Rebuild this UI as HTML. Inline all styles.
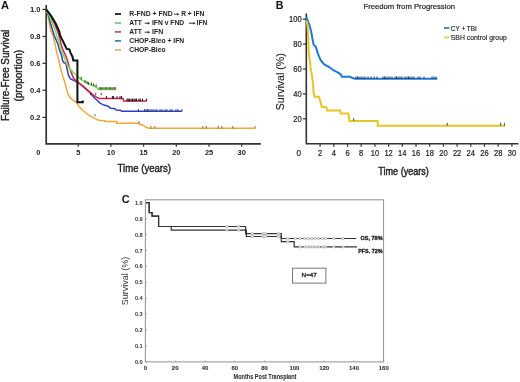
<!DOCTYPE html>
<html><head><meta charset="utf-8"><style>
html,body{margin:0;padding:0;background:#fff;width:520px;height:382px;overflow:hidden}
svg{display:block;font-family:"Liberation Sans", sans-serif;will-change:transform}
</style></head><body>
<svg width="520" height="382" viewBox="0 0 520 382">
<rect width="520" height="382" fill="#fff"/>
<text x="1.1" y="9.0" font-size="10.6" font-weight="bold" text-anchor="start" fill="#111" textLength="8.0" lengthAdjust="spacingAndGlyphs" >A</text>
<path d="M46.2 5 V143.8 H260.8" fill="none" stroke="#333" stroke-width="1.7"/>
<line x1="42.4" y1="9.4" x2="46.2" y2="9.4" stroke="#333" stroke-width="1.2"/>
<text x="40.6" y="12.100000000000001" font-size="7.6" font-weight="bold" text-anchor="end" fill="#222" >1.0</text>
<line x1="42.4" y1="36.5" x2="46.2" y2="36.5" stroke="#333" stroke-width="1.2"/>
<text x="40.6" y="39.2" font-size="7.6" font-weight="bold" text-anchor="end" fill="#222" >0.8</text>
<line x1="42.4" y1="63.3" x2="46.2" y2="63.3" stroke="#333" stroke-width="1.2"/>
<text x="40.6" y="66.0" font-size="7.6" font-weight="bold" text-anchor="end" fill="#222" >0.6</text>
<line x1="42.4" y1="90.2" x2="46.2" y2="90.2" stroke="#333" stroke-width="1.2"/>
<text x="40.6" y="92.9" font-size="7.6" font-weight="bold" text-anchor="end" fill="#222" >0.4</text>
<line x1="42.4" y1="117.4" x2="46.2" y2="117.4" stroke="#333" stroke-width="1.2"/>
<text x="40.6" y="120.10000000000001" font-size="7.6" font-weight="bold" text-anchor="end" fill="#222" >0.2</text>
<line x1="78.2" y1="143.8" x2="78.2" y2="146.8" stroke="#333" stroke-width="1.2"/>
<text x="78.2" y="154.8" font-size="7.4" font-weight="bold" text-anchor="middle" fill="#222" >5</text>
<line x1="110.9" y1="143.8" x2="110.9" y2="146.8" stroke="#333" stroke-width="1.2"/>
<text x="110.9" y="154.8" font-size="7.4" font-weight="bold" text-anchor="middle" fill="#222" >10</text>
<line x1="143.6" y1="143.8" x2="143.6" y2="146.8" stroke="#333" stroke-width="1.2"/>
<text x="143.6" y="154.8" font-size="7.4" font-weight="bold" text-anchor="middle" fill="#222" >15</text>
<line x1="176.3" y1="143.8" x2="176.3" y2="146.8" stroke="#333" stroke-width="1.2"/>
<text x="176.3" y="154.8" font-size="7.4" font-weight="bold" text-anchor="middle" fill="#222" >20</text>
<line x1="209.0" y1="143.8" x2="209.0" y2="146.8" stroke="#333" stroke-width="1.2"/>
<text x="209.0" y="154.8" font-size="7.4" font-weight="bold" text-anchor="middle" fill="#222" >25</text>
<line x1="241.7" y1="143.8" x2="241.7" y2="146.8" stroke="#333" stroke-width="1.2"/>
<text x="241.7" y="154.8" font-size="7.4" font-weight="bold" text-anchor="middle" fill="#222" >30</text>
<text x="38.2" y="154.8" font-size="7.4" font-weight="bold" text-anchor="middle" fill="#222" >0</text>
<text x="117.6" y="171.8" font-size="10.4" font-weight="normal" text-anchor="start" fill="#222" stroke="#222" stroke-width="0.4" textLength="53.4" lengthAdjust="spacingAndGlyphs" >Time (years)</text>
<text x="9.4" y="120.9" font-size="10.6" font-weight="normal" text-anchor="start" fill="#222" stroke="#222" stroke-width="0.4" textLength="91.2" lengthAdjust="spacingAndGlyphs" transform="rotate(-90 9.4 120.9)" >Failure-Free Survival</text>
<text x="21.8" y="101.6" font-size="10.4" font-weight="normal" text-anchor="start" fill="#222" stroke="#222" stroke-width="0.4" textLength="51.8" lengthAdjust="spacingAndGlyphs" transform="rotate(-90 21.8 101.6)" >(proportion)</text>
<line x1="115" y1="14.0" x2="121" y2="14.0" stroke="#111" stroke-width="1.7"/>
<line x1="115" y1="23.0" x2="121" y2="23.0" stroke="#72c872" stroke-width="1.7"/>
<line x1="115" y1="31.9" x2="121" y2="31.9" stroke="#c04a6a" stroke-width="1.7"/>
<line x1="115" y1="40.9" x2="121" y2="40.9" stroke="#3f7ab0" stroke-width="1.7"/>
<line x1="115" y1="49.9" x2="121" y2="49.9" stroke="#d8b080" stroke-width="1.7"/>
<text x="129.29999999999998" y="16.2" font-size="6.5" font-weight="bold" text-anchor="start" fill="#222" textLength="43.4" lengthAdjust="spacingAndGlyphs" >R-FND + FND</text>
<path d="M174.0 14.2 H177.8" stroke="#222" stroke-width="0.9" fill="none"/>
<path d="M177.20000000000002 12.899999999999999 L179.4 14.2 L177.20000000000002 15.5 Z" fill="#222"/>
<text x="181.2" y="16.2" font-size="6.5" font-weight="bold" text-anchor="start" fill="#222" textLength="23.2" lengthAdjust="spacingAndGlyphs" >R + IFN</text>
<text x="129.29999999999998" y="25.2" font-size="6.5" font-weight="bold" text-anchor="start" fill="#222" textLength="12.5" lengthAdjust="spacingAndGlyphs" >ATT</text>
<path d="M144.7 23.2 H148.5" stroke="#222" stroke-width="0.9" fill="none"/>
<path d="M147.9 21.9 L150.1 23.2 L147.9 24.5 Z" fill="#222"/>
<text x="152.0" y="25.2" font-size="6.5" font-weight="bold" text-anchor="start" fill="#222" textLength="32.2" lengthAdjust="spacingAndGlyphs" >IFN v FND</text>
<path d="M188.8 23.2 H194.0" stroke="#222" stroke-width="0.9" fill="none"/>
<path d="M193.4 21.9 L195.6 23.2 L193.4 24.5 Z" fill="#222"/>
<text x="196.6" y="25.2" font-size="6.5" font-weight="bold" text-anchor="start" fill="#222" textLength="10.7" lengthAdjust="spacingAndGlyphs" >IFN</text>
<text x="129.29999999999998" y="34.2" font-size="6.5" font-weight="bold" text-anchor="start" fill="#222" textLength="12.5" lengthAdjust="spacingAndGlyphs" >ATT</text>
<path d="M144.7 32.2 H148.5" stroke="#222" stroke-width="0.9" fill="none"/>
<path d="M147.9 30.900000000000002 L150.1 32.2 L147.9 33.5 Z" fill="#222"/>
<text x="152.0" y="34.2" font-size="6.5" font-weight="bold" text-anchor="start" fill="#222" textLength="11.2" lengthAdjust="spacingAndGlyphs" >IFN</text>
<text x="129.29999999999998" y="43.2" font-size="6.5" font-weight="bold" text-anchor="start" fill="#222" textLength="54.9" lengthAdjust="spacingAndGlyphs" >CHOP-Bleo + IFN</text>
<text x="129.29999999999998" y="52.2" font-size="6.5" font-weight="bold" text-anchor="start" fill="#222" textLength="36.3" lengthAdjust="spacingAndGlyphs" >CHOP-Bleo</text>
<path d="M46.4 9.6 L48.0 15.9 L49.5 23.7 L51.0 31.6 L53.2 36.0 L55.0 43.9 L56.2 50.1 L57.6 55.6 L59.2 62.0 L60.9 70.0 L62.5 75.4 L64.0 80.0 L65.6 85.0 L66.8 90.0 L67.9 94.3 L70.4 97.9 L73.5 100.6 L76.7 102.1 L78.8 106.3 L82.9 110.5 L88.2 114.7 L92.4 117.3 L95.5 118.9 L98.9 120.2 L104.7 120.7 L104.7 121.6 L116.7 121.6 L116.7 123.3 L139.0 123.3 L139.6 124.5 L142.7 125.0 L145.0 126.7 L148.5 128.2 L255.0 128.2" fill="none" stroke="#f0a83a" stroke-width="1.5" stroke-linejoin="miter" />
<line x1="95.0" y1="114.0" x2="95.0" y2="116.5" stroke="#6a5030" stroke-width="0.8"/>
<line x1="139.0" y1="121.1" x2="139.0" y2="123.6" stroke="#6a5030" stroke-width="0.8"/>
<line x1="150.8" y1="126.0" x2="150.8" y2="128.5" stroke="#6a5030" stroke-width="0.8"/>
<line x1="154.8" y1="126.0" x2="154.8" y2="128.5" stroke="#6a5030" stroke-width="0.8"/>
<line x1="202.8" y1="126.0" x2="202.8" y2="128.5" stroke="#6a5030" stroke-width="0.8"/>
<line x1="206.4" y1="126.0" x2="206.4" y2="128.5" stroke="#6a5030" stroke-width="0.8"/>
<line x1="218.3" y1="126.0" x2="218.3" y2="128.5" stroke="#6a5030" stroke-width="0.8"/>
<line x1="221.9" y1="126.0" x2="221.9" y2="128.5" stroke="#6a5030" stroke-width="0.8"/>
<line x1="232.8" y1="126.0" x2="232.8" y2="128.5" stroke="#6a5030" stroke-width="0.8"/>
<line x1="255.0" y1="126.0" x2="255.0" y2="128.5" stroke="#6a5030" stroke-width="0.8"/>
<path d="M46.4 9.6 L48.7 15.9 L50.7 23.7 L53.0 31.6 L54.4 36.0 L57.9 43.9 L59.5 50.1 L61.7 55.6 L62.3 59.5 L63.2 61.8 L64.2 62.8 L65.8 63.3 L66.8 67.5 L68.6 75.7 L70.6 78.9 L74.0 80.6 L78.0 82.4 L82.7 86.1 L89.8 92.5 L94.5 98.0 L96.9 100.0 L100.0 103.1 L103.9 105.1 L107.6 105.9 L110.7 108.2 L114.7 108.4 L116.2 110.0 L120.6 110.2 L121.6 111.3 L182.0 111.3" fill="none" stroke="#2f3fc2" stroke-width="1.5" stroke-linejoin="miter" />
<line x1="138.5" y1="109.0" x2="138.5" y2="111.5" stroke="#1a2a70" stroke-width="0.8"/>
<line x1="144.5" y1="109.0" x2="144.5" y2="111.5" stroke="#1a2a70" stroke-width="0.8"/>
<line x1="146.0" y1="109.0" x2="146.0" y2="111.5" stroke="#1a2a70" stroke-width="0.8"/>
<line x1="147.5" y1="109.0" x2="147.5" y2="111.5" stroke="#1a2a70" stroke-width="0.8"/>
<line x1="149.0" y1="109.0" x2="149.0" y2="111.5" stroke="#1a2a70" stroke-width="0.8"/>
<line x1="151.0" y1="109.0" x2="151.0" y2="111.5" stroke="#1a2a70" stroke-width="0.8"/>
<line x1="153.0" y1="109.0" x2="153.0" y2="111.5" stroke="#1a2a70" stroke-width="0.8"/>
<line x1="155.0" y1="109.0" x2="155.0" y2="111.5" stroke="#1a2a70" stroke-width="0.8"/>
<line x1="157.0" y1="109.0" x2="157.0" y2="111.5" stroke="#1a2a70" stroke-width="0.8"/>
<line x1="160.0" y1="109.0" x2="160.0" y2="111.5" stroke="#1a2a70" stroke-width="0.8"/>
<line x1="162.0" y1="109.0" x2="162.0" y2="111.5" stroke="#1a2a70" stroke-width="0.8"/>
<line x1="165.0" y1="109.0" x2="165.0" y2="111.5" stroke="#1a2a70" stroke-width="0.8"/>
<line x1="167.0" y1="109.0" x2="167.0" y2="111.5" stroke="#1a2a70" stroke-width="0.8"/>
<line x1="170.0" y1="109.0" x2="170.0" y2="111.5" stroke="#1a2a70" stroke-width="0.8"/>
<line x1="172.0" y1="109.0" x2="172.0" y2="111.5" stroke="#1a2a70" stroke-width="0.8"/>
<line x1="176.0" y1="109.0" x2="176.0" y2="111.5" stroke="#1a2a70" stroke-width="0.8"/>
<line x1="178.0" y1="109.0" x2="178.0" y2="111.5" stroke="#1a2a70" stroke-width="0.8"/>
<line x1="182.0" y1="109.0" x2="182.0" y2="111.5" stroke="#1a2a70" stroke-width="0.8"/>
<path d="M46.4 9.6 L50.3 15.9 L54.6 23.7 L57.7 31.6 L59.1 36.0 L61.0 43.9 L63.0 50.1 L65.7 55.6 L67.7 61.1 L68.9 66.0 L71.0 71.8 L73.4 78.0 L76.5 81.2 L78.0 82.3 L82.7 85.9 L88.2 90.6 L93.7 95.3 L96.9 97.4 L99.5 98.5 L123.0 98.5 L123.6 101.0 L146.6 101.0" fill="none" stroke="#d4214d" stroke-width="1.5" stroke-linejoin="miter" />
<line x1="90.6" y1="92.8" x2="90.6" y2="95.3" stroke="#3a1020" stroke-width="0.8"/>
<line x1="95.7" y1="92.8" x2="95.7" y2="95.3" stroke="#3a1020" stroke-width="0.8"/>
<line x1="101.2" y1="92.8" x2="101.2" y2="95.3" stroke="#3a1020" stroke-width="0.8"/>
<line x1="106.5" y1="96.0" x2="106.5" y2="98.8" stroke="#111" stroke-width="0.9"/>
<line x1="112.4" y1="96.0" x2="112.4" y2="98.8" stroke="#111" stroke-width="0.9"/>
<line x1="113.5" y1="96.0" x2="113.5" y2="98.8" stroke="#111" stroke-width="0.9"/>
<line x1="117.0" y1="96.0" x2="117.0" y2="98.8" stroke="#111" stroke-width="0.9"/>
<line x1="120.0" y1="96.0" x2="120.0" y2="98.8" stroke="#111" stroke-width="0.9"/>
<line x1="121.5" y1="96.0" x2="121.5" y2="98.8" stroke="#111" stroke-width="0.9"/>
<line x1="127.0" y1="98.6" x2="127.0" y2="101.3" stroke="#111" stroke-width="1.0"/>
<line x1="128.2" y1="98.6" x2="128.2" y2="101.3" stroke="#111" stroke-width="1.0"/>
<line x1="129.4" y1="98.6" x2="129.4" y2="101.3" stroke="#111" stroke-width="1.0"/>
<line x1="131.0" y1="98.6" x2="131.0" y2="101.3" stroke="#111" stroke-width="1.0"/>
<line x1="132.5" y1="98.6" x2="132.5" y2="101.3" stroke="#111" stroke-width="1.0"/>
<line x1="134.0" y1="98.6" x2="134.0" y2="101.3" stroke="#111" stroke-width="1.0"/>
<line x1="135.2" y1="98.6" x2="135.2" y2="101.3" stroke="#111" stroke-width="1.0"/>
<line x1="136.5" y1="98.6" x2="136.5" y2="101.3" stroke="#111" stroke-width="1.0"/>
<line x1="139.0" y1="98.6" x2="139.0" y2="101.3" stroke="#111" stroke-width="1.0"/>
<line x1="140.2" y1="98.6" x2="140.2" y2="101.3" stroke="#111" stroke-width="1.0"/>
<line x1="142.5" y1="98.6" x2="142.5" y2="101.3" stroke="#111" stroke-width="1.0"/>
<line x1="146.6" y1="98.6" x2="146.6" y2="101.3" stroke="#111" stroke-width="1.0"/>
<path d="M46.4 9.6 L49.5 15.9 L52.6 23.7 L55.8 31.6 L56.7 36.0 L59.5 43.9 L61.0 50.1 L63.8 55.6 L65.1 60.0 L67.1 64.7 L67.7 66.0 L72.6 71.8 L78.0 76.5 L81.1 79.6 L85.9 82.7 L91.4 85.1 L96.1 87.0 L98.4 89.4 L115.9 89.4" fill="none" stroke="#78e050" stroke-width="1.5" stroke-linejoin="miter" />
<g>
<line x1="81.2" y1="76.8" x2="81.2" y2="79.60000000000001" stroke="#1e3a10" stroke-width="0.9"/>
<line x1="85.1" y1="80.0" x2="85.1" y2="82.80000000000001" stroke="#1e3a10" stroke-width="0.9"/>
<line x1="87.1" y1="81.19999999999999" x2="87.1" y2="84.0" stroke="#1e3a10" stroke-width="0.9"/>
<line x1="88.6" y1="82.0" x2="88.6" y2="84.80000000000001" stroke="#1e3a10" stroke-width="0.9"/>
<line x1="91.4" y1="82.5" x2="91.4" y2="85.30000000000001" stroke="#1e3a10" stroke-width="0.9"/>
<line x1="93.7" y1="83.39999999999999" x2="93.7" y2="86.2" stroke="#1e3a10" stroke-width="0.9"/>
<line x1="96.1" y1="84.39999999999999" x2="96.1" y2="87.2" stroke="#1e3a10" stroke-width="0.9"/>
</g>
<line x1="99.2" y1="87.2" x2="99.2" y2="89.5" stroke="#1e3a10" stroke-width="0.8"/>
<line x1="100.4" y1="87.2" x2="100.4" y2="89.5" stroke="#1e3a10" stroke-width="0.8"/>
<line x1="101.6" y1="87.2" x2="101.6" y2="89.5" stroke="#1e3a10" stroke-width="0.8"/>
<line x1="102.8" y1="87.2" x2="102.8" y2="89.5" stroke="#1e3a10" stroke-width="0.8"/>
<line x1="104.0" y1="87.2" x2="104.0" y2="89.5" stroke="#1e3a10" stroke-width="0.8"/>
<line x1="105.4" y1="87.2" x2="105.4" y2="89.5" stroke="#1e3a10" stroke-width="0.8"/>
<line x1="106.6" y1="87.2" x2="106.6" y2="89.5" stroke="#1e3a10" stroke-width="0.8"/>
<line x1="108.0" y1="87.2" x2="108.0" y2="89.5" stroke="#1e3a10" stroke-width="0.8"/>
<line x1="109.3" y1="87.2" x2="109.3" y2="89.5" stroke="#1e3a10" stroke-width="0.8"/>
<line x1="110.6" y1="87.2" x2="110.6" y2="89.5" stroke="#1e3a10" stroke-width="0.8"/>
<line x1="111.8" y1="87.2" x2="111.8" y2="89.5" stroke="#1e3a10" stroke-width="0.8"/>
<line x1="113.0" y1="87.2" x2="113.0" y2="89.5" stroke="#1e3a10" stroke-width="0.8"/>
<line x1="114.3" y1="87.2" x2="114.3" y2="89.5" stroke="#1e3a10" stroke-width="0.8"/>
<line x1="115.6" y1="87.2" x2="115.6" y2="89.5" stroke="#1e3a10" stroke-width="0.8"/>
<path d="M46.4 9.6 L51.1 15.9 L55.8 23.7 L59.3 31.6 L60.0 35.3 L61.8 38.9 L63.6 42.5 L65.3 46.0 L66.7 48.9 L69.3 49.3 L70.7 53.1 L72.5 56.7 L73.3 60.6 L77.4 60.6 L77.4 102.3 L82.8 102.3 L82.8 100.4" fill="none" stroke="#111" stroke-width="2.0" stroke-linejoin="miter" />
<text x="275.8" y="8.9" font-size="10.6" font-weight="bold" text-anchor="start" fill="#111" >B</text>
<text x="363.5" y="8.7" font-size="7.3" font-weight="normal" text-anchor="start" fill="#222" stroke="#222" stroke-width="0.2" textLength="91.5" lengthAdjust="spacingAndGlyphs" >Freedom from Progression</text>
<path d="M306.3 13.5 V143.8 H518.5" fill="none" stroke="#333" stroke-width="1.6"/>
<line x1="302.8" y1="19.2" x2="306.3" y2="19.2" stroke="#333" stroke-width="1.2"/>
<text x="301.6" y="22.099999999999973" font-size="8.2" font-weight="normal" text-anchor="end" fill="#222" stroke="#222" stroke-width="0.2" textLength="12.6" lengthAdjust="spacingAndGlyphs" >100</text>
<line x1="302.8" y1="44.1" x2="306.3" y2="44.1" stroke="#333" stroke-width="1.2"/>
<text x="301.6" y="46.99999999999998" font-size="8.2" font-weight="normal" text-anchor="end" fill="#222" stroke="#222" stroke-width="0.2" textLength="8.4" lengthAdjust="spacingAndGlyphs" >80</text>
<line x1="302.8" y1="69.0" x2="306.3" y2="69.0" stroke="#333" stroke-width="1.2"/>
<text x="301.6" y="71.89999999999999" font-size="8.2" font-weight="normal" text-anchor="end" fill="#222" stroke="#222" stroke-width="0.2" textLength="8.4" lengthAdjust="spacingAndGlyphs" >60</text>
<line x1="302.8" y1="93.9" x2="306.3" y2="93.9" stroke="#333" stroke-width="1.2"/>
<text x="301.6" y="96.79999999999998" font-size="8.2" font-weight="normal" text-anchor="end" fill="#222" stroke="#222" stroke-width="0.2" textLength="8.4" lengthAdjust="spacingAndGlyphs" >40</text>
<line x1="302.8" y1="118.8" x2="306.3" y2="118.8" stroke="#333" stroke-width="1.2"/>
<text x="301.6" y="121.69999999999999" font-size="8.2" font-weight="normal" text-anchor="end" fill="#222" stroke="#222" stroke-width="0.2" textLength="8.4" lengthAdjust="spacingAndGlyphs" >20</text>
<line x1="320.1" y1="143.8" x2="320.1" y2="146.8" stroke="#333" stroke-width="1.2"/>
<text x="320.1" y="155.8" font-size="8.2" font-weight="normal" text-anchor="middle" fill="#222" stroke="#222" stroke-width="0.2" textLength="4.2" lengthAdjust="spacingAndGlyphs" >2</text>
<line x1="333.8" y1="143.8" x2="333.8" y2="146.8" stroke="#333" stroke-width="1.2"/>
<text x="333.8" y="155.8" font-size="8.2" font-weight="normal" text-anchor="middle" fill="#222" stroke="#222" stroke-width="0.2" textLength="4.2" lengthAdjust="spacingAndGlyphs" >4</text>
<line x1="347.5" y1="143.8" x2="347.5" y2="146.8" stroke="#333" stroke-width="1.2"/>
<text x="347.5" y="155.8" font-size="8.2" font-weight="normal" text-anchor="middle" fill="#222" stroke="#222" stroke-width="0.2" textLength="4.2" lengthAdjust="spacingAndGlyphs" >6</text>
<line x1="361.2" y1="143.8" x2="361.2" y2="146.8" stroke="#333" stroke-width="1.2"/>
<text x="361.2" y="155.8" font-size="8.2" font-weight="normal" text-anchor="middle" fill="#222" stroke="#222" stroke-width="0.2" textLength="4.2" lengthAdjust="spacingAndGlyphs" >8</text>
<line x1="374.9" y1="143.8" x2="374.9" y2="146.8" stroke="#333" stroke-width="1.2"/>
<text x="374.9" y="155.8" font-size="8.2" font-weight="normal" text-anchor="middle" fill="#222" stroke="#222" stroke-width="0.2" textLength="8.4" lengthAdjust="spacingAndGlyphs" >10</text>
<line x1="388.6" y1="143.8" x2="388.6" y2="146.8" stroke="#333" stroke-width="1.2"/>
<text x="388.6" y="155.8" font-size="8.2" font-weight="normal" text-anchor="middle" fill="#222" stroke="#222" stroke-width="0.2" textLength="8.4" lengthAdjust="spacingAndGlyphs" >12</text>
<line x1="402.3" y1="143.8" x2="402.3" y2="146.8" stroke="#333" stroke-width="1.2"/>
<text x="402.3" y="155.8" font-size="8.2" font-weight="normal" text-anchor="middle" fill="#222" stroke="#222" stroke-width="0.2" textLength="8.4" lengthAdjust="spacingAndGlyphs" >14</text>
<line x1="416.0" y1="143.8" x2="416.0" y2="146.8" stroke="#333" stroke-width="1.2"/>
<text x="416.0" y="155.8" font-size="8.2" font-weight="normal" text-anchor="middle" fill="#222" stroke="#222" stroke-width="0.2" textLength="8.4" lengthAdjust="spacingAndGlyphs" >16</text>
<line x1="429.7" y1="143.8" x2="429.7" y2="146.8" stroke="#333" stroke-width="1.2"/>
<text x="429.7" y="155.8" font-size="8.2" font-weight="normal" text-anchor="middle" fill="#222" stroke="#222" stroke-width="0.2" textLength="8.4" lengthAdjust="spacingAndGlyphs" >18</text>
<line x1="443.4" y1="143.8" x2="443.4" y2="146.8" stroke="#333" stroke-width="1.2"/>
<text x="443.4" y="155.8" font-size="8.2" font-weight="normal" text-anchor="middle" fill="#222" stroke="#222" stroke-width="0.2" textLength="8.4" lengthAdjust="spacingAndGlyphs" >20</text>
<line x1="457.1" y1="143.8" x2="457.1" y2="146.8" stroke="#333" stroke-width="1.2"/>
<text x="457.1" y="155.8" font-size="8.2" font-weight="normal" text-anchor="middle" fill="#222" stroke="#222" stroke-width="0.2" textLength="8.4" lengthAdjust="spacingAndGlyphs" >22</text>
<line x1="470.8" y1="143.8" x2="470.8" y2="146.8" stroke="#333" stroke-width="1.2"/>
<text x="470.8" y="155.8" font-size="8.2" font-weight="normal" text-anchor="middle" fill="#222" stroke="#222" stroke-width="0.2" textLength="8.4" lengthAdjust="spacingAndGlyphs" >24</text>
<line x1="484.5" y1="143.8" x2="484.5" y2="146.8" stroke="#333" stroke-width="1.2"/>
<text x="484.5" y="155.8" font-size="8.2" font-weight="normal" text-anchor="middle" fill="#222" stroke="#222" stroke-width="0.2" textLength="8.4" lengthAdjust="spacingAndGlyphs" >26</text>
<line x1="498.2" y1="143.8" x2="498.2" y2="146.8" stroke="#333" stroke-width="1.2"/>
<text x="498.2" y="155.8" font-size="8.2" font-weight="normal" text-anchor="middle" fill="#222" stroke="#222" stroke-width="0.2" textLength="8.4" lengthAdjust="spacingAndGlyphs" >28</text>
<line x1="511.9" y1="143.8" x2="511.9" y2="146.8" stroke="#333" stroke-width="1.2"/>
<text x="511.9" y="155.8" font-size="8.2" font-weight="normal" text-anchor="middle" fill="#222" stroke="#222" stroke-width="0.2" textLength="8.4" lengthAdjust="spacingAndGlyphs" >30</text>
<text x="298.7" y="155.8" font-size="8.2" font-weight="normal" text-anchor="middle" fill="#222" stroke="#222" stroke-width="0.2" >0</text>
<text x="378.3" y="174.5" font-size="11" font-weight="normal" text-anchor="start" fill="#222" stroke="#222" stroke-width="0.45" textLength="50.6" lengthAdjust="spacingAndGlyphs" >Time (years)</text>
<text x="283.8" y="110.3" font-size="10.2" font-weight="normal" text-anchor="start" fill="#222" stroke="#222" stroke-width="0.1" textLength="57.0" lengthAdjust="spacingAndGlyphs" transform="rotate(-90 283.8 110.3)" >Survival (%)</text>
<line x1="444" y1="28" x2="449.4" y2="28" stroke="#3d7cc0" stroke-width="1.8"/>
<line x1="444" y1="37.4" x2="449.4" y2="37.4" stroke="#e2cc48" stroke-width="1.8"/>
<text x="450.8" y="30.6" font-size="7.2" font-weight="normal" text-anchor="start" fill="#222" stroke="#222" stroke-width="0.15" textLength="26.0" lengthAdjust="spacingAndGlyphs" >CY + TBI</text>
<text x="450.8" y="39.9" font-size="7.2" font-weight="normal" text-anchor="start" fill="#222" stroke="#222" stroke-width="0.15" textLength="56.0" lengthAdjust="spacingAndGlyphs" >SBH control group</text>
<path d="M306.5 17.0 L306.8 18.6 L309.5 25.0 L311.3 32.3 L312.3 37.9 L313.5 44.3 L315.9 47.0 L317.8 53.4 L320.5 59.9 L324.2 64.5 L328.9 66.8 L332.9 70.0 L336.8 71.9 L340.7 74.3 L341.9 76.7 L350.2 76.7 L351.8 77.8 L354.9 78.7 L437.3 78.7" fill="none" stroke="#1f7ad8" stroke-width="2.0" stroke-linejoin="miter" />
<line x1="356.0" y1="76.4" x2="356.0" y2="78.9" stroke="#0d1d40" stroke-width="0.8"/>
<line x1="357.5" y1="76.4" x2="357.5" y2="78.9" stroke="#0d1d40" stroke-width="0.8"/>
<line x1="359.0" y1="76.4" x2="359.0" y2="78.9" stroke="#0d1d40" stroke-width="0.8"/>
<line x1="361.0" y1="76.4" x2="361.0" y2="78.9" stroke="#0d1d40" stroke-width="0.8"/>
<line x1="363.0" y1="76.4" x2="363.0" y2="78.9" stroke="#0d1d40" stroke-width="0.8"/>
<line x1="365.0" y1="76.4" x2="365.0" y2="78.9" stroke="#0d1d40" stroke-width="0.8"/>
<line x1="368.0" y1="76.4" x2="368.0" y2="78.9" stroke="#0d1d40" stroke-width="0.8"/>
<line x1="371.0" y1="76.4" x2="371.0" y2="78.9" stroke="#0d1d40" stroke-width="0.8"/>
<line x1="374.0" y1="76.4" x2="374.0" y2="78.9" stroke="#0d1d40" stroke-width="0.8"/>
<line x1="377.0" y1="76.4" x2="377.0" y2="78.9" stroke="#0d1d40" stroke-width="0.8"/>
<line x1="383.0" y1="76.4" x2="383.0" y2="78.9" stroke="#0d1d40" stroke-width="0.8"/>
<line x1="384.5" y1="76.4" x2="384.5" y2="78.9" stroke="#0d1d40" stroke-width="0.8"/>
<line x1="386.0" y1="76.4" x2="386.0" y2="78.9" stroke="#0d1d40" stroke-width="0.8"/>
<line x1="388.0" y1="76.4" x2="388.0" y2="78.9" stroke="#0d1d40" stroke-width="0.8"/>
<line x1="390.0" y1="76.4" x2="390.0" y2="78.9" stroke="#0d1d40" stroke-width="0.8"/>
<line x1="392.0" y1="76.4" x2="392.0" y2="78.9" stroke="#0d1d40" stroke-width="0.8"/>
<line x1="395.0" y1="76.4" x2="395.0" y2="78.9" stroke="#0d1d40" stroke-width="0.8"/>
<line x1="396.5" y1="76.4" x2="396.5" y2="78.9" stroke="#0d1d40" stroke-width="0.8"/>
<line x1="398.0" y1="76.4" x2="398.0" y2="78.9" stroke="#0d1d40" stroke-width="0.8"/>
<line x1="400.0" y1="76.4" x2="400.0" y2="78.9" stroke="#0d1d40" stroke-width="0.8"/>
<line x1="402.0" y1="76.4" x2="402.0" y2="78.9" stroke="#0d1d40" stroke-width="0.8"/>
<line x1="405.0" y1="76.4" x2="405.0" y2="78.9" stroke="#0d1d40" stroke-width="0.8"/>
<line x1="407.0" y1="76.4" x2="407.0" y2="78.9" stroke="#0d1d40" stroke-width="0.8"/>
<line x1="408.5" y1="76.4" x2="408.5" y2="78.9" stroke="#0d1d40" stroke-width="0.8"/>
<line x1="410.0" y1="76.4" x2="410.0" y2="78.9" stroke="#0d1d40" stroke-width="0.8"/>
<line x1="412.0" y1="76.4" x2="412.0" y2="78.9" stroke="#0d1d40" stroke-width="0.8"/>
<line x1="414.0" y1="76.4" x2="414.0" y2="78.9" stroke="#0d1d40" stroke-width="0.8"/>
<line x1="418.0" y1="76.4" x2="418.0" y2="78.9" stroke="#0d1d40" stroke-width="0.8"/>
<line x1="420.0" y1="76.4" x2="420.0" y2="78.9" stroke="#0d1d40" stroke-width="0.8"/>
<line x1="424.0" y1="76.4" x2="424.0" y2="78.9" stroke="#0d1d40" stroke-width="0.8"/>
<line x1="432.0" y1="76.4" x2="432.0" y2="78.9" stroke="#0d1d40" stroke-width="0.8"/>
<line x1="434.0" y1="76.4" x2="434.0" y2="78.9" stroke="#0d1d40" stroke-width="0.8"/>
<line x1="436.0" y1="76.4" x2="436.0" y2="78.9" stroke="#0d1d40" stroke-width="0.8"/>
<path d="M306.6 20.5 L307.2 24.0 L307.7 27.7 L308.3 40.0 L308.8 53.6 L309.7 60.0 L310.6 67.7 L312.0 76.0 L313.0 83.0 L313.6 93.3 L314.7 96.8 L318.9 96.8 L320.0 100.3 L321.8 106.8 L326.5 107.4 L327.1 110.4 L340.1 110.4 L340.7 113.6 L348.3 113.6 L349.5 121.1 L377.7 121.1 L377.7 125.8 L505.3 125.8" fill="none" stroke="#e4c626" stroke-width="2.0" stroke-linejoin="miter" />
<line x1="353.7" y1="118.2" x2="353.7" y2="120.9" stroke="#333" stroke-width="0.9"/>
<line x1="447.3" y1="122.9" x2="447.3" y2="125.6" stroke="#333" stroke-width="0.9"/>
<line x1="500.6" y1="122.9" x2="500.6" y2="125.6" stroke="#333" stroke-width="0.9"/>
<line x1="504.4" y1="122.9" x2="504.4" y2="125.6" stroke="#333" stroke-width="0.9"/>
<text x="121.7" y="202.6" font-size="10.9" font-weight="bold" text-anchor="start" fill="#111" >C</text>
<rect x="145.4" y="199.8" width="238.1" height="162.1" fill="none" stroke="#9a9a9a" stroke-width="1.1"/>
<text x="142.7" y="363.9" font-size="5.6" font-weight="bold" text-anchor="end" fill="#333" >0.0</text>
<line x1="145.4" y1="361.9" x2="147" y2="361.9" stroke="#9a9a9a" stroke-width="0.8"/>
<text x="142.7" y="347.98999999999995" font-size="5.6" font-weight="bold" text-anchor="end" fill="#333" >0.1</text>
<line x1="145.4" y1="346.0" x2="147" y2="346.0" stroke="#9a9a9a" stroke-width="0.8"/>
<text x="142.7" y="332.08" font-size="5.6" font-weight="bold" text-anchor="end" fill="#333" >0.2</text>
<line x1="145.4" y1="330.1" x2="147" y2="330.1" stroke="#9a9a9a" stroke-width="0.8"/>
<text x="142.7" y="316.16999999999996" font-size="5.6" font-weight="bold" text-anchor="end" fill="#333" >0.3</text>
<line x1="145.4" y1="314.2" x2="147" y2="314.2" stroke="#9a9a9a" stroke-width="0.8"/>
<text x="142.7" y="300.26" font-size="5.6" font-weight="bold" text-anchor="end" fill="#333" >0.4</text>
<line x1="145.4" y1="298.3" x2="147" y2="298.3" stroke="#9a9a9a" stroke-width="0.8"/>
<text x="142.7" y="284.34999999999997" font-size="5.6" font-weight="bold" text-anchor="end" fill="#333" >0.5</text>
<line x1="145.4" y1="282.3" x2="147" y2="282.3" stroke="#9a9a9a" stroke-width="0.8"/>
<text x="142.7" y="268.44" font-size="5.6" font-weight="bold" text-anchor="end" fill="#333" >0.6</text>
<line x1="145.4" y1="266.4" x2="147" y2="266.4" stroke="#9a9a9a" stroke-width="0.8"/>
<text x="142.7" y="252.52999999999997" font-size="5.6" font-weight="bold" text-anchor="end" fill="#333" >0.7</text>
<line x1="145.4" y1="250.5" x2="147" y2="250.5" stroke="#9a9a9a" stroke-width="0.8"/>
<text x="142.7" y="236.61999999999998" font-size="5.6" font-weight="bold" text-anchor="end" fill="#333" >0.8</text>
<line x1="145.4" y1="234.6" x2="147" y2="234.6" stroke="#9a9a9a" stroke-width="0.8"/>
<text x="142.7" y="220.70999999999998" font-size="5.6" font-weight="bold" text-anchor="end" fill="#333" >0.9</text>
<line x1="145.4" y1="218.7" x2="147" y2="218.7" stroke="#9a9a9a" stroke-width="0.8"/>
<text x="142.7" y="204.79999999999998" font-size="5.6" font-weight="bold" text-anchor="end" fill="#333" >1.0</text>
<line x1="145.4" y1="202.8" x2="147" y2="202.8" stroke="#9a9a9a" stroke-width="0.8"/>
<text x="145.4" y="369.9" font-size="6.0" font-weight="bold" text-anchor="middle" fill="#333" stroke="#333" stroke-width="0.1" >0</text>
<line x1="145.4" y1="360.4" x2="145.4" y2="361.9" stroke="#9a9a9a" stroke-width="0.8"/>
<text x="175.2" y="369.9" font-size="6.0" font-weight="bold" text-anchor="middle" fill="#333" stroke="#333" stroke-width="0.1" >20</text>
<line x1="175.2" y1="360.4" x2="175.2" y2="361.9" stroke="#9a9a9a" stroke-width="0.8"/>
<text x="205.0" y="369.9" font-size="6.0" font-weight="bold" text-anchor="middle" fill="#333" stroke="#333" stroke-width="0.1" >40</text>
<line x1="205.0" y1="360.4" x2="205.0" y2="361.9" stroke="#9a9a9a" stroke-width="0.8"/>
<text x="234.8" y="369.9" font-size="6.0" font-weight="bold" text-anchor="middle" fill="#333" stroke="#333" stroke-width="0.1" >60</text>
<line x1="234.8" y1="360.4" x2="234.8" y2="361.9" stroke="#9a9a9a" stroke-width="0.8"/>
<text x="264.6" y="369.9" font-size="6.0" font-weight="bold" text-anchor="middle" fill="#333" stroke="#333" stroke-width="0.1" >80</text>
<line x1="264.6" y1="360.4" x2="264.6" y2="361.9" stroke="#9a9a9a" stroke-width="0.8"/>
<text x="294.4" y="369.9" font-size="6.0" font-weight="bold" text-anchor="middle" fill="#333" stroke="#333" stroke-width="0.1" >100</text>
<line x1="294.4" y1="360.4" x2="294.4" y2="361.9" stroke="#9a9a9a" stroke-width="0.8"/>
<text x="324.2" y="369.9" font-size="6.0" font-weight="bold" text-anchor="middle" fill="#333" stroke="#333" stroke-width="0.1" >120</text>
<line x1="324.2" y1="360.4" x2="324.2" y2="361.9" stroke="#9a9a9a" stroke-width="0.8"/>
<text x="354.0" y="369.9" font-size="6.0" font-weight="bold" text-anchor="middle" fill="#333" stroke="#333" stroke-width="0.1" >140</text>
<line x1="354.0" y1="360.4" x2="354.0" y2="361.9" stroke="#9a9a9a" stroke-width="0.8"/>
<text x="383.8" y="369.9" font-size="6.0" font-weight="bold" text-anchor="middle" fill="#333" stroke="#333" stroke-width="0.1" >160</text>
<line x1="383.8" y1="360.4" x2="383.8" y2="361.9" stroke="#9a9a9a" stroke-width="0.8"/>
<text x="233.6" y="379.3" font-size="6.3" font-weight="bold" text-anchor="start" fill="#222" textLength="62.8" lengthAdjust="spacingAndGlyphs" >Months Post Transplant</text>
<text x="127.7" y="305.2" font-size="8.6" font-weight="normal" text-anchor="start" fill="#333" textLength="48.6" lengthAdjust="spacingAndGlyphs" transform="rotate(-90 127.7 305.2)" >Survival (%)</text>
<rect x="292.5" y="268.2" width="33.4" height="14.9" fill="none" stroke="#777" stroke-width="1"/>
<text x="301.6" y="277.4" font-size="6.1" font-weight="normal" text-anchor="start" fill="#222" stroke="#222" stroke-width="0.3" textLength="15.2" lengthAdjust="spacingAndGlyphs" >N=47</text>
<text x="360.6" y="240.1" font-size="5.9" font-weight="bold" text-anchor="start" fill="#1a1a1a" stroke="#1a1a1a" stroke-width="0.3" textLength="21.9" lengthAdjust="spacingAndGlyphs" >OS, 78%</text>
<text x="358.2" y="252.8" font-size="5.9" font-weight="bold" text-anchor="start" fill="#1a1a1a" stroke="#1a1a1a" stroke-width="0.3" textLength="24.3" lengthAdjust="spacingAndGlyphs" >PFS. 72%</text>
<path d="M146.0 202.7 L149.2 202.7 L149.2 212.7 L152.1 212.7 L152.1 216.2 L158.6 216.2 L158.6 226.5 L245.6 226.5 L245.6 233.6 L281.3 233.6 L281.3 238.5 L356.3 238.5" fill="none" stroke="#333" stroke-width="1.2" stroke-linejoin="miter" />
<path d="M146.0 202.7 L149.2 202.7 L149.2 212.7 L152.1 212.7 L152.1 216.2 L158.6 216.2 L158.6 226.5 L171.2 226.5 L171.2 230.1 L246.4 230.1 L246.4 236.5 L281.3 236.5 L281.3 241.7 L294.2 241.7 L294.2 246.9 L357.0 246.9" fill="none" stroke="#333" stroke-width="1.2" stroke-linejoin="miter" />
<ellipse cx="226.9" cy="226.5" rx="1.4" ry="1.1" fill="#f4f4f4" stroke="#999" stroke-width="0.6"/>
<ellipse cx="238.5" cy="226.5" rx="1.4" ry="1.1" fill="#f4f4f4" stroke="#999" stroke-width="0.6"/>
<ellipse cx="226.9" cy="230.1" rx="1.4" ry="1.1" fill="#f4f4f4" stroke="#999" stroke-width="0.6"/>
<ellipse cx="238.5" cy="230.1" rx="1.4" ry="1.1" fill="#f4f4f4" stroke="#999" stroke-width="0.6"/>
<ellipse cx="252.3" cy="233.6" rx="1.4" ry="1.1" fill="#f4f4f4" stroke="#999" stroke-width="0.6"/>
<ellipse cx="263.0" cy="233.6" rx="1.4" ry="1.1" fill="#f4f4f4" stroke="#999" stroke-width="0.6"/>
<ellipse cx="265.4" cy="233.6" rx="1.4" ry="1.1" fill="#f4f4f4" stroke="#999" stroke-width="0.6"/>
<ellipse cx="278.5" cy="233.6" rx="1.4" ry="1.1" fill="#f4f4f4" stroke="#999" stroke-width="0.6"/>
<ellipse cx="252.3" cy="236.5" rx="1.4" ry="1.1" fill="#f4f4f4" stroke="#999" stroke-width="0.6"/>
<ellipse cx="263.0" cy="236.5" rx="1.4" ry="1.1" fill="#f4f4f4" stroke="#999" stroke-width="0.6"/>
<ellipse cx="265.4" cy="236.5" rx="1.4" ry="1.1" fill="#f4f4f4" stroke="#999" stroke-width="0.6"/>
<ellipse cx="278.5" cy="236.5" rx="1.4" ry="1.1" fill="#f4f4f4" stroke="#999" stroke-width="0.6"/>
<ellipse cx="287.7" cy="238.5" rx="1.4" ry="1.1" fill="#f4f4f4" stroke="#999" stroke-width="0.6"/>
<ellipse cx="287.7" cy="241.7" rx="1.4" ry="1.1" fill="#f4f4f4" stroke="#999" stroke-width="0.6"/>
<ellipse cx="295.4" cy="238.5" rx="1.4" ry="1.1" fill="#f4f4f4" stroke="#999" stroke-width="0.6"/>
<ellipse cx="300.1" cy="238.5" rx="1.4" ry="1.1" fill="#f4f4f4" stroke="#999" stroke-width="0.6"/>
<ellipse cx="304.8" cy="238.5" rx="1.4" ry="1.1" fill="#f4f4f4" stroke="#999" stroke-width="0.6"/>
<ellipse cx="308.2" cy="238.5" rx="1.4" ry="1.1" fill="#f4f4f4" stroke="#999" stroke-width="0.6"/>
<ellipse cx="311.5" cy="238.5" rx="1.4" ry="1.1" fill="#f4f4f4" stroke="#999" stroke-width="0.6"/>
<ellipse cx="314.9" cy="238.5" rx="1.4" ry="1.1" fill="#f4f4f4" stroke="#999" stroke-width="0.6"/>
<ellipse cx="318.3" cy="238.5" rx="1.4" ry="1.1" fill="#f4f4f4" stroke="#999" stroke-width="0.6"/>
<ellipse cx="322.3" cy="238.5" rx="1.4" ry="1.1" fill="#f4f4f4" stroke="#999" stroke-width="0.6"/>
<ellipse cx="325.7" cy="238.5" rx="1.4" ry="1.1" fill="#f4f4f4" stroke="#999" stroke-width="0.6"/>
<ellipse cx="333.7" cy="238.5" rx="1.4" ry="1.1" fill="#f4f4f4" stroke="#999" stroke-width="0.6"/>
<ellipse cx="342.5" cy="238.5" rx="1.4" ry="1.1" fill="#f4f4f4" stroke="#999" stroke-width="0.6"/>
<ellipse cx="300.1" cy="246.9" rx="1.4" ry="1.1" fill="#f4f4f4" stroke="#999" stroke-width="0.6"/>
<ellipse cx="304.8" cy="246.9" rx="1.4" ry="1.1" fill="#f4f4f4" stroke="#999" stroke-width="0.6"/>
<ellipse cx="307.5" cy="246.9" rx="1.4" ry="1.1" fill="#f4f4f4" stroke="#999" stroke-width="0.6"/>
<ellipse cx="310.2" cy="246.9" rx="1.4" ry="1.1" fill="#f4f4f4" stroke="#999" stroke-width="0.6"/>
<ellipse cx="312.9" cy="246.9" rx="1.4" ry="1.1" fill="#f4f4f4" stroke="#999" stroke-width="0.6"/>
<ellipse cx="315.6" cy="246.9" rx="1.4" ry="1.1" fill="#f4f4f4" stroke="#999" stroke-width="0.6"/>
<ellipse cx="318.9" cy="246.9" rx="1.4" ry="1.1" fill="#f4f4f4" stroke="#999" stroke-width="0.6"/>
<ellipse cx="323.0" cy="246.9" rx="1.4" ry="1.1" fill="#f4f4f4" stroke="#999" stroke-width="0.6"/>
<ellipse cx="325.7" cy="246.9" rx="1.4" ry="1.1" fill="#f4f4f4" stroke="#999" stroke-width="0.6"/>
<ellipse cx="333.7" cy="246.9" rx="1.4" ry="1.1" fill="#f4f4f4" stroke="#999" stroke-width="0.6"/>
<ellipse cx="343.2" cy="246.9" rx="1.4" ry="1.1" fill="#f4f4f4" stroke="#999" stroke-width="0.6"/>
</svg>
</body></html>
